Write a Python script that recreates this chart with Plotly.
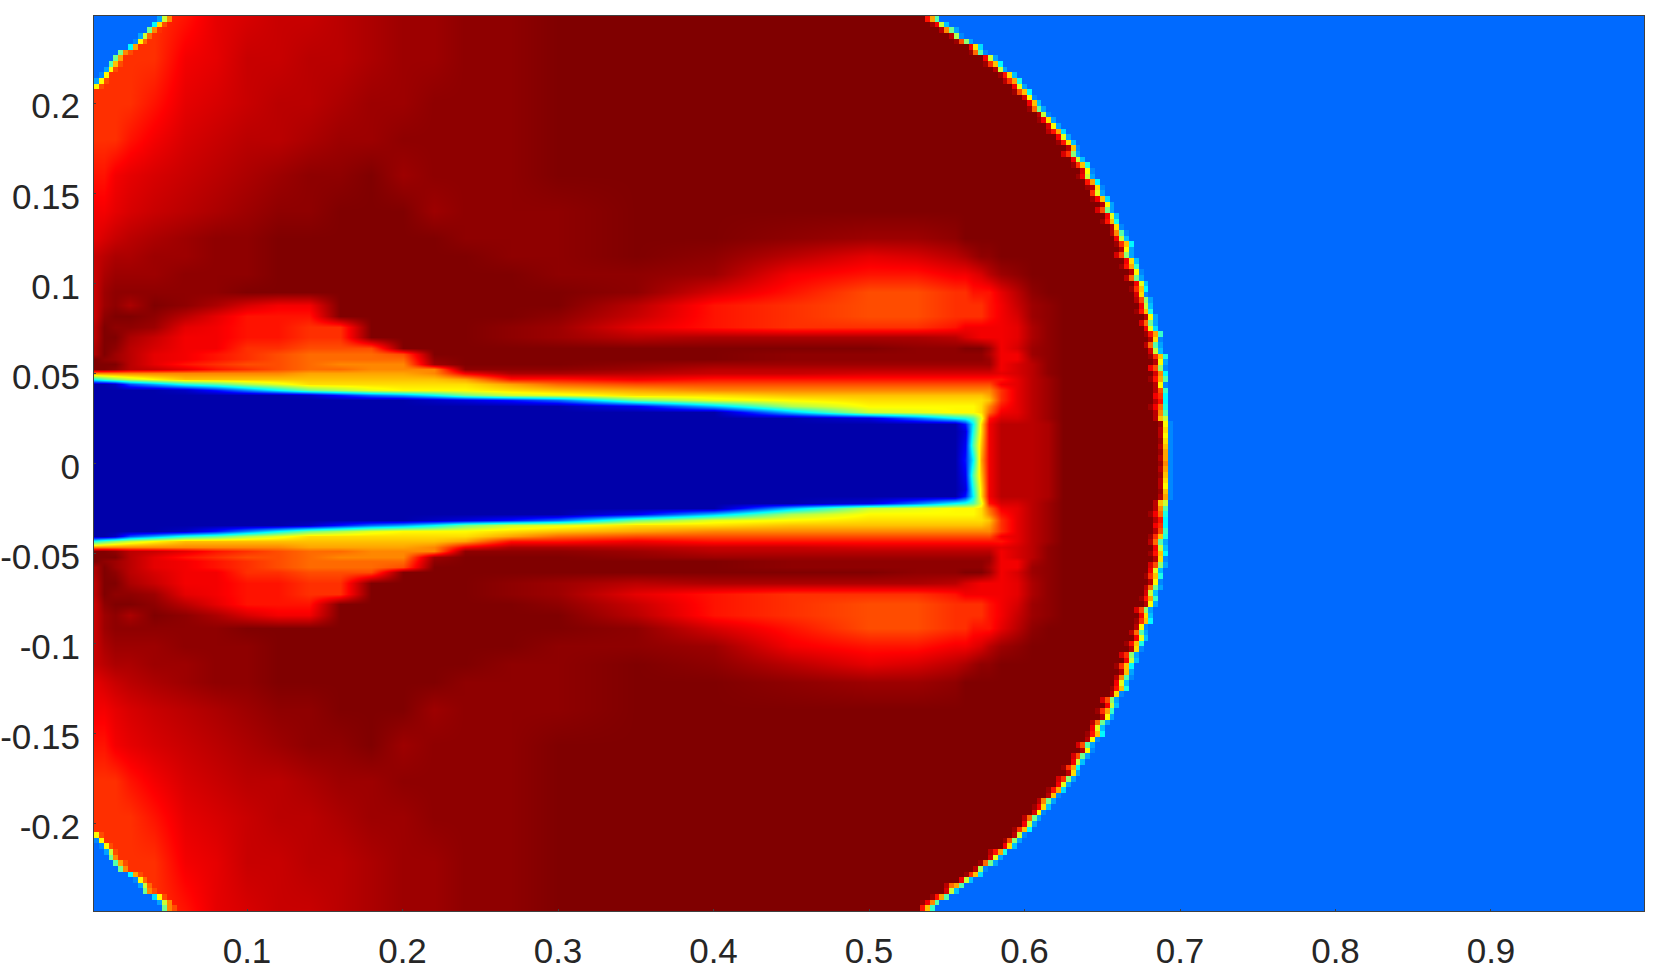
import numpy as np
import plotly.graph_objects as go

# Field values, one letter per node, position on the jet scale
# 1 = core blue, 8 = ambient blue, D = cyan, M = yellow, Q = orange, V = red, Z = dark red
# a-d are half steps in the dark reds
BASE_CODES = "0123456789ABCDEFGHIJKLMNOPQRSTUVWXYZ"
HALF_CODES = {"a": 0.9857, "b": 0.957, "c": 0.929, "d": 0.9}

x_nodes = [0.002, 0.008, 0.015, 0.025, 0.04, 0.06, 0.08, 0.10, 0.12, 0.14, 0.16, 0.18, 0.20, 0.22, 0.24, 0.27, 0.30,
           0.35, 0.40, 0.45, 0.50, 0.53, 0.555, 0.562, 0.567, 0.572, 0.577, 0.585, 0.595, 0.605, 0.615, 0.625, 0.70]

y_nodes = [0.2484, 0.225, 0.20, 0.18, 0.16, 0.14, 0.125, 0.115, 0.105, 0.095, 0.088, 0.082, 0.076, 0.07, 0.064, 0.061,
           0.058, 0.0555, 0.0525, 0.05, 0.047, 0.044, 0.041, 0.038, 0.035, 0.032, 0.0285, 0.0255, 0.022, 0.018, 0.01,
           0.002, -0.0062, -0.0142, -0.0182, -0.0217, -0.0247, -0.0282, -0.0312, -0.0342, -0.0372, -0.0402, -0.0432,
           -0.0462, -0.0487, -0.0517, -0.0542, -0.0572, -0.0602, -0.0662, -0.0722, -0.0782, -0.0842, -0.0912, -0.1012,
           -0.1112, -0.1212, -0.1362, -0.1562, -0.1762, -0.1962, -0.2212, -0.2484]

# rows top to bottom, short rows carry on as dark red
field_rows = [
    "TTTTTUdWccXbYYaa",
    "TTTTTVdccXXbYYaa",
    "TTTTUdWcXXbYYaaa",
    "TTTUVWcXXbYYaaaa",
    "UUVdWcXbYaaZYaaa",
    "VVdWcXbYaaZZZYaaa",
    "dWcXbYaaZZZZZZaaaZZaYYa",
    "cXbbYYaaZZZZZZZaaZaXdWXbYaa",
    "cbYYYaaaZZZZZZZZaaYVUUVVdWXYa",
    "cYaaaaaZZZZZZZZZZaWUSSTTUUUdXa",
    "cYabZabWVVZZZZZZZXUTSSTTTTUVcYa",
    "caZZaXdUUUZZZZZZacUTSSTTTTUVWYa",
    "XZaaYdVUUTTZZZZaYdUTTTUVVVVVdba",
    "XZZbcVVUUTTZZZZaYXbbbbXWdVVVdba",
    "bZaXWVVTTSSSZZZZZZZZZaaZZZYVWYa",
    "bZYXdVUTSRRRSZZZZZZaaaaaaabVVYa",
    "ZaYXdVUTSRRRRaZZZZZaaaaaaaYVVba",
    "ZZZXdUTSSRQQQYZZZaYYYYYYYYYVWXa",
    "ZZaXcdUTSRRQQQaaaYXXXXXXXXXVWXa",
    "QQQQQQQQQPPPPQVbbXccWWWWWWWdWXa",
    "EGIKMOOOOOOOOOPUUVUUUUUUUUUUdXY",
    "1127AEGJLNNNNNNPRSSSSSSSSSSVdXY",
    "11111259DHJLMMMNOPQQQQQQQQQTdXY",
    "1" * 9 + "258ADHKLNNOOOOOOOPTdXY",
    "1" * 13 + "2358HLMNNNNNNOTdXY",
    "1" * 17 + "4BJMMMMMNQUdXY",
    "1" * 19 + "BKLMMMNRVdXY",
    "1" * 20 + "38DEGLUWWXY",
    "1" * 23 + "5DNVXXXb",
    "1" * 23 + "3ENVXXXb",
    "1" * 23 + "4GOVXXXb",
    "1" * 23 + "5DPVXXXb",
    "1" * 23 + "4GOVXXXb",
    "1" * 23 + "3ENVXXXb",
    "1" * 23 + "5DNVXXXb",
    "1" * 20 + "38DEGLUWWXY",
    "1" * 19 + "BKLMMMNRVdXY",
    "1" * 17 + "4BJMMMMMNQUdXY",
    "1" * 13 + "2358HLMNNNNNNOTdXY",
    "1" * 9 + "258ADHKLNNOOOOOOOPTdXY",
    "11111259DHJLMMMNOPQQQQQQQQQTdXY",
    "1127AEGJLNNNNNNPRSSSSSSSSSSVdXY",
    "EGIKMOOOOOOOOOPUUVUUUUUUUUUUdXY",
    "QQQQQQQQQPPPPQVbbXccWWWWWWWdWXa",
    "ZZaXcdUTSRRQQQaaaYXXXXXXXXXVWXa",
    "ZZZXdUTSSRQQQYZZZaYYYYYYYYYVWXa",
    "ZaYXdVUTSRRRRaZZZZZaaaaaaaYVVba",
    "bZYXdVUTSRRRSZZZZZZaaaaaaabVVYa",
    "bZaXWVVTTSSSZZZZZZZZZaaZZZYVWYa",
    "XZZbcVVUUTTZZZZaYXbbbbXWdVVVdba",
    "XZaaYdVUUTTZZZZaYdUTTTUVVVVVdba",
    "caZZaXdUUUZZZZZZacUTSSTTTTUVWYa",
    "cYabZabWVVZZZZZZZXUTSSTTTTUVcYa",
    "cYaaaaaZZZZZZZZZZaWUSSTTUUUdXa",
    "cbYYYaaaZZZZZZZZaaYVUUVVdWXYa",
    "cXbbYYaaZZZZZZZaaZaXdWXbYaa",
    "dWcXbYaaZZZZZZaaaZZaYYa",
    "VVdWcXbYaaZZZYaaa",
    "UUVdWcXbYaaZYaaa",
    "TTTUVWcXXbYYaaaa",
    "TTTTUdWcXXbYYaaa",
    "TTTTTVdccXXbYYaa",
    "TTTTTUdWccXbYYaa",
]

# Shock front: the cell grid of the picture, brightest cell of each row
ring_col = [172, 174, 176, 177, 179, 181, 182, 184, 185, 186, 188, 189, 190, 191, 192, 193, 194, 195, 196, 197,
            198, 199, 200, 201, 201, 202, 203, 204, 204, 205, 206, 206, 207, 208, 208, 209, 209, 210, 211, 211,
            212, 212, 212, 213, 213, 214, 214, 215, 215, 215, 216, 216, 216, 217, 217, 217, 218, 218, 218, 218,
            219, 219, 219, 219, 219, 219, 219, 219, 219, 219, 219, 219, 220, 220, 220, 220, 220, 220, 220,
            220, 220, 220, 220, 220, 220, 220, 219, 219, 219, 219, 219, 219, 219, 219, 219, 219, 219, 219,
            218, 218, 218, 218, 217, 217, 217, 216, 216, 216, 215, 215, 215, 214, 214, 213, 213, 212, 212, 212,
            211, 211, 210, 209, 209, 208, 208, 207, 206, 206, 205, 204, 204, 203, 202, 201, 201, 200, 199, 198,
            197, 196, 195, 194, 193, 192, 191, 190, 189, 188, 186, 185, 184, 182, 181, 179, 177, 176, 174, 172, 171]

ring_bands = """ZUPG YVKB XQHA ZXJ9 YSIA ZVNC YRG9 ZVKA YTOD ZXKA
YUNB XTPE ZVLA YSOD ZWM9 ZVOB YRHA ZXK9 YVNA ZWMA
XUPC ZVLA YUNB ZXO9 WTIA ZVKB YTOE ZWM9 YVKA ZUPD
YXN9 ZTLA YVOC ZXMA WSHA ZVLB YUOE ZXN9 XQG9 ZVKB
YTOD ZXMA WSIA ZVNB YUPF ZXM9 XRHA ZVLB YTOD ZWN9
XSIA ZVKB YUOE ZXMA WRHA ZVLC YUPF ZXN9 XRGA ZWKB
YTOE ZXMA VSI9 ZWQD YUPG ZXM9 ZXSF ZVTD ZXUD YVRE
ZXQG ZXOK ZYM9 ZXN9 ZXM9 ZYN9 ZXO9 ZYP9 ZXP9 ZYQ9
ZXP9 ZYO9 ZXN9 ZXM9 ZYO9 ZXP9 ZXOK ZXQG YVRE ZXUD
ZVTD ZXSF YTOE XRGA ZVKB YUOD ZXN9 WSIA ZVLB YTOE
ZXM9 XRHA ZWKB YUPF ZXMA WSIA ZVNB YTOD ZXM9 XRGA
ZVLB YUOE ZXN9 WTIA ZVKB YTOD ZXOA XQG9 ZVLB YUOE
ZXN9 WSIA ZVKB YTPF ZXMA XRHA ZVLB YUOD ZXM9 WSGA
ZXM9 WSHA ZVKB YTPD ZXNA WTIA ZVLA YUPC ZXO9 XQHA
YVNB ZWM9 XRHA ZVKA YTOD ZXK9 YSIA ZVNB XUPE ZWLA
YRHA ZXJ9 YTOC ZVKB XRPG ZWKB YUPG YVQG ZUOF""".split()

# Rounded off corners at the left edge, blue outside them
corner_rows = [0, 1, 2, 3, 4, 5, 6, 7, 8, 9, 10, 11, 12,
               145, 146, 147, 148, 149, 150, 151, 152, 153, 154, 155, 156, 157, 158]
corner_col = [14, 13, 12, 10, 9, 8, 6, 5, 4, 3, 2, 1, 0,
              0, 1, 2, 3, 4, 5, 6, 8, 9, 10, 11, 13, 14, 15]
corner_bands = ["AKQ", "DNS", "HQT", "AKR", "9MR", "DPT", "HQS", "HPT", "GOS", "AMS", "9MT", "AMS", "AMS",
                "AMS", "9MT", "9MS", "AKS", "HQT", "GPS", "HQT", "DPS", "9MR", "AKR", "HQS", "CMS", "AKQ", "HQS"]

x_ticks = [0.1, 0.2, 0.3, 0.4, 0.5, 0.6, 0.7, 0.8, 0.9]
x_labels = ["0.1", "0.2", "0.3", "0.4", "0.5", "0.6", "0.7", "0.8", "0.9"]
y_ticks = [-0.2, -0.15, -0.1, -0.05, 0, 0.05, 0.1, 0.15, 0.2]
y_labels = ["-0.2", "-0.15", "-0.1", "-0.05", "0", "0.05", "0.1", "0.15", "0.2"]

jet = [[0, "rgb(0,0,145)"], [0.125, "rgb(0,0,255)"], [0.375, "rgb(0,255,255)"],
       [0.625, "rgb(255,255,0)"], [0.875, "rgb(255,0,0)"], [1, "rgb(128,0,0)"]]


def level(ch):
    if ch in HALF_CODES:
        return HALF_CODES[ch]
    return BASE_CODES.index(ch) / 35


field = [[level(ch) for ch in row.ljust(len(x_nodes), "Z")] for row in field_rows]

# 319 x 159 cells like the original pcolor, empty where the smooth field shows through
n_cols, n_rows = 319, 159
cell = 0.003125
front = np.full((n_rows, n_cols), np.nan)
ambient = level("8")
for r in range(n_rows):
    col = ring_col[r]
    for i, ch in enumerate(ring_bands[r]):
        front[r, col - 2 + i] = level(ch)
    front[r, col + 2:] = ambient
for r, col, band in zip(corner_rows, corner_col, corner_bands):
    if col > 1:
        front[r, :col - 1] = ambient
    for i, ch in enumerate(band):
        if col - 1 + i >= 0:
            front[r, col - 1 + i] = level(ch)

fig = go.Figure()

# Smooth field
fig.add_trace(go.Heatmap(x=x_nodes, y=y_nodes, z=field, zsmooth="best", coloraxis="coloraxis", hoverinfo="skip"))

# Shock front and the blue outside it, cell by cell
fig.add_trace(go.Heatmap(x0=0.0016 + cell / 2, dx=cell, y0=0.2484 - cell / 2, dy=-cell, z=front,
                         coloraxis="coloraxis", hoverinfo="skip"))

font = dict(family="Liberation Sans, Arial, sans-serif", size=35, color="#262626")
axis = dict(showgrid=False, zeroline=False, mirror=True, showline=True, linecolor="#404040", linewidth=1,
            ticks="inside", ticklen=2, tickcolor="#404040", tickfont=font, tickmode="array", automargin=False)

fig.update_layout(
    width=1661,
    height=970,
    margin=dict(l=94, r=17, t=16, b=59),
    paper_bgcolor="white",
    plot_bgcolor="white",
    showlegend=False,
    coloraxis=dict(colorscale=jet, cmin=0, cmax=1, showscale=False),
    xaxis=dict(axis, range=[0.0016, 0.9984], tickvals=x_ticks, ticktext=x_labels, ticklabelstandoff=9),
    yaxis=dict(axis, range=[-0.2484, 0.2484], tickvals=y_ticks, ticktext=y_labels, ticklabelstandoff=6,
               ticklabelshift=3),
)

# the page margin would push the figure off its place
fig.write_html("out.html", config={"displayModeBar": False}, post_script="document.body.style.margin = '0';")
